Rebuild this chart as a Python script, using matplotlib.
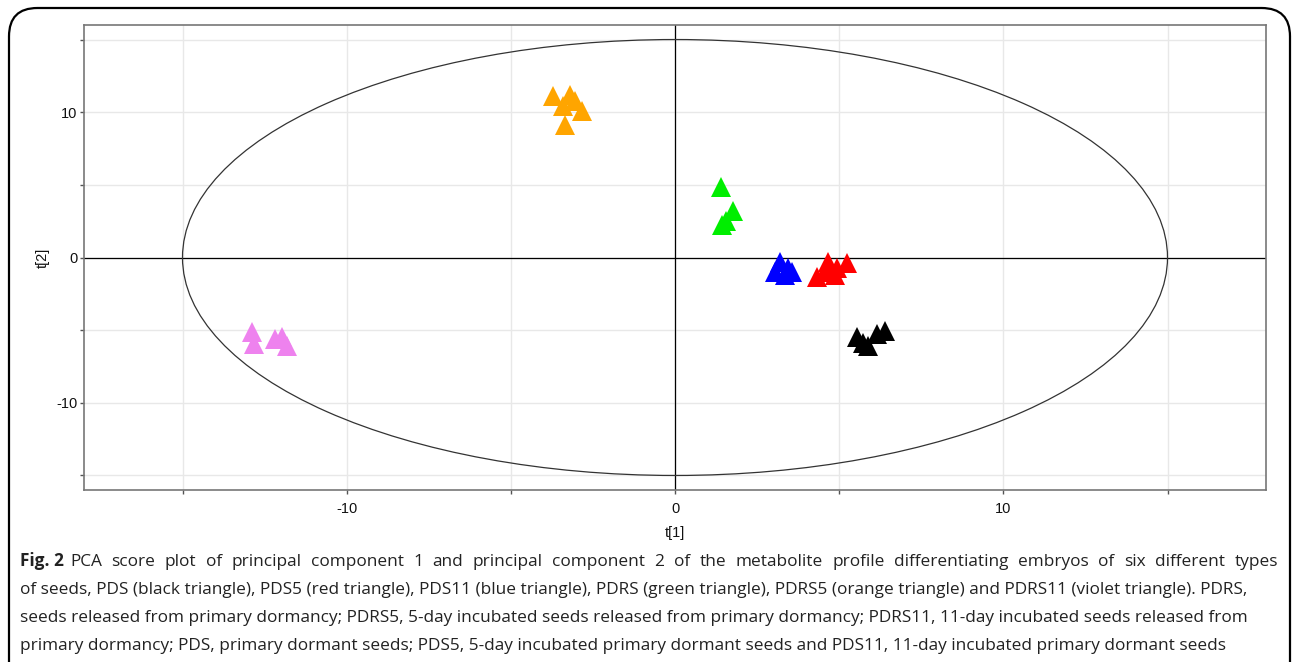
import matplotlib.pyplot as plt
import numpy as np
from matplotlib.patches import Ellipse, FancyBboxPatch
from matplotlib.ticker import FuncFormatter, MultipleLocator

# PCA scores (t[1], t[2]) per seed group
PDS_t1 = [5.54, 6.39, 6.15, 5.88, 5.72]
PDS_t2 = [-5.45, -5.03, -5.24, -6.07, -5.86]
PDS5_t1 = [4.66, 4.93, 5.24, 4.32, 4.87, 4.57]
PDS5_t2 = [-0.34, -0.69, -0.41, -1.31, -1.17, -0.97]
PDS11_t1 = [3.20, 3.44, 3.04, 3.35, 3.56]
PDS11_t2 = [-0.28, -0.69, -0.97, -1.17, -0.97]
PDRS_t1 = [1.40, 1.77, 1.43, 1.55]
PDRS_t2 = [4.83, 3.17, 2.21, 2.48]
PDRS5_t1 = [-3.71, -3.20, -3.41, -2.83, -3.35, -3.04]
PDRS5_t2 = [11.10, 11.17, 10.41, 10.07, 9.10, 10.76]
PDRS11_t1 = [-12.88, -12.82, -12.18, -11.96, -11.81]
PDRS11_t2 = [-5.10, -5.93, -5.59, -5.45, -6.07]

groups = [
    (PDS_t1, PDS_t2, "#000000"),
    (PDS5_t1, PDS5_t2, "#ff0000"),
    (PDS11_t1, PDS11_t2, "#0000ff"),
    (PDRS_t1, PDRS_t2, "#00ee00"),
    (PDRS5_t1, PDRS5_t2, "#ffa500"),
    (PDRS11_t1, PDRS11_t2, "#ee82ee"),
]

ELLIPSE_T1 = 15.0
ELLIPSE_T2 = 15.0

caption_lines = [
    "PCA score plot of principal component 1 and principal component 2 of the metabolite profile differentiating embryos of six different types",
    "of seeds, PDS (black triangle), PDS5 (red triangle), PDS11 (blue triangle), PDRS (green triangle), PDRS5 (orange triangle) and PDRS11 (violet triangle). PDRS,",
    "seeds released from primary dormancy; PDRS5, 5-day incubated seeds released from primary dormancy; PDRS11, 11-day incubated seeds released from",
    "primary dormancy; PDS, primary dormant seeds; PDS5, 5-day incubated primary dormant seeds and PDS11, 11-day incubated primary dormant seeds",
]
CAPTION_FONT = "Open Sans"
CAP_COLOR = "#222222"

W, H = 1293, 662
fig = plt.figure(figsize=(W / 100, H / 100), dpi=100)

frame = FancyBboxPatch((9 / W, -0.05), (1290 - 9) / W, 1.05 - 8 / H,
                       boxstyle="round,pad=0,rounding_size=0.022",
                       transform=fig.transFigure, fill=False, edgecolor="black",
                       linewidth=1.6, mutation_aspect=W / H)
fig.patches.append(frame)

ax = fig.add_axes([84 / W, 1 - 490 / H, (1266 - 84) / W, (490 - 25) / H])
ax.set_xlim(-18, 18)
ax.set_ylim(-16, 16)

ax.xaxis.set_major_locator(MultipleLocator(5))
ax.yaxis.set_major_locator(MultipleLocator(5))
fmt = FuncFormatter(lambda v, p: f"{int(round(v))}" if int(round(v)) % 10 == 0 else "")
ax.xaxis.set_major_formatter(fmt)
ax.yaxis.set_major_formatter(fmt)
ax.grid(True, color="#e8e8e8", linewidth=1.0)
ax.set_axisbelow(True)
ax.tick_params(direction="out", length=3, width=1, color="#555555", labelsize=10.5,
               labelcolor="#111111")
ax.tick_params(axis="x", pad=5.5)
ax.tick_params(axis="y", pad=1.5)
for lab in ax.get_xticklabels() + ax.get_yticklabels():
    lab.set_family("Liberation Sans")
for sp in ax.spines.values():
    sp.set_color("#777777")
    sp.set_linewidth(1.2)

ax.axhline(0, color="black", linewidth=0.9, zorder=1)
ax.axvline(0, color="black", linewidth=0.9, zorder=1)
ax.add_patch(Ellipse((0, 0), 2 * ELLIPSE_T1, 2 * ELLIPSE_T2, fill=False,
                     edgecolor="#333333", linewidth=0.9, zorder=1))

for t1, t2, c in groups:
    ax.plot(t1, t2, linestyle="none", marker="^", markersize=15, color=c,
            markeredgewidth=0, zorder=3)

ax.set_xlabel("t[1]", fontsize=10.5, family="Liberation Sans", labelpad=7, color="#111111")
ax.set_ylabel("t[2]", fontsize=10.5, family="Liberation Sans", labelpad=5, color="#111111")

# caption
cap_y = [566, 594, 622, 650]
fs = 12.45
renderer = fig.canvas.get_renderer()

bold = fig.text(20 / W, 1 - cap_y[0] / H, "Fig. 2", fontsize=fs, fontweight="bold",
                family=CAPTION_FONT, va="baseline", color=CAP_COLOR)
x_px = bold.get_window_extent(renderer).x1 + 6
words = caption_lines[0].split(" ")
arts = [fig.text(0, 1 - cap_y[0] / H, w, fontsize=fs, family=CAPTION_FONT,
                 va="baseline", color=CAP_COLOR) for w in words]
widths = [a.get_window_extent(renderer).width for a in arts]
gap = (1278 - x_px - sum(widths)) / (len(words) - 1)
for a, wd in zip(arts, widths):
    a.set_x(x_px / W)
    x_px += wd + gap

for line, y in zip(caption_lines[1:], cap_y[1:]):
    fig.text(20 / W, 1 - y / H, line, fontsize=fs, family=CAPTION_FONT,
             va="baseline", color=CAP_COLOR)

fig.savefig("out.png", dpi=100)
